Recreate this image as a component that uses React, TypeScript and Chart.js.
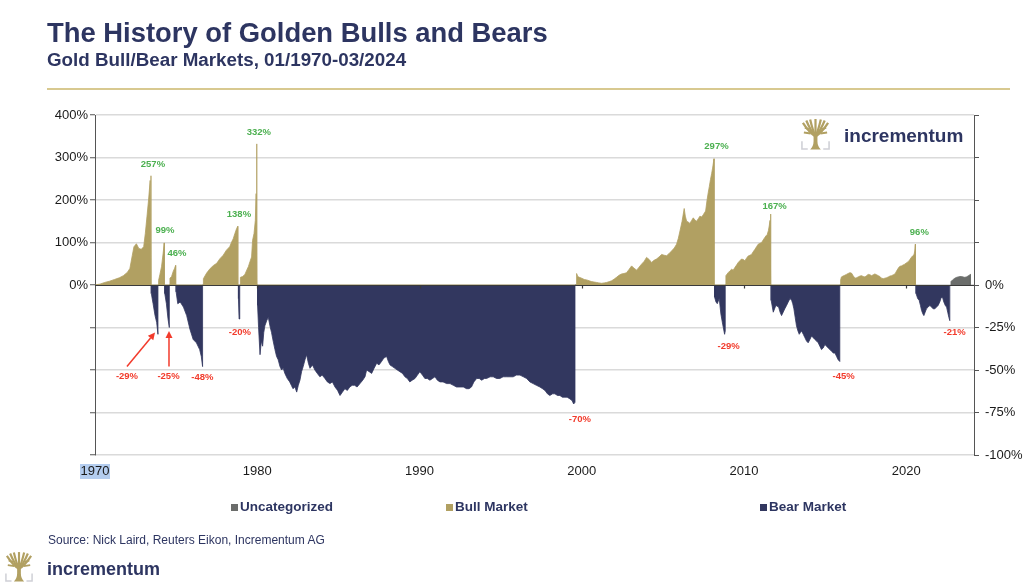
import React, { useEffect, useRef } from "react";
import { Chart, registerables } from "chart.js";

Chart.register(...registerables);

type Pt = [number, number];

// ---------- axis ticks ----------
const xTickYears = [1970, 1980, 1990, 2000, 2010, 2020];
const leftTickLabels = [0, 100, 200, 300, 400];
const rightTickLabels = [0, -25, -50, -75, -100];
const legendLabels = ["Uncategorized", "Bull Market", "Bear Market"];

// ---------- series: [year, % change] ----------
const bull1: Pt[] = [[1970.05, 0.5], [1970.3, 2], [1970.6, 6], [1970.9, 9], [1971.2, 13], [1971.5, 17], [1971.75, 22], [1972.0, 30], [1972.15, 39], [1972.3, 70], [1972.4, 90], [1972.55, 97], [1972.7, 86], [1972.85, 84], [1973.0, 90], [1973.1, 121], [1973.2, 160], [1973.3, 200], [1973.4, 246], [1973.45, 257]];
const bear1: Pt[] = [[1973.47, -5], [1973.58, -11], [1973.7, -18], [1973.8, -22], [1973.88, -29]];
const bull2: Pt[] = [[1973.92, 11], [1974.0, 25], [1974.1, 43], [1974.2, 75], [1974.27, 99]];
const bear2: Pt[] = [[1974.3, -5], [1974.4, -11], [1974.5, -20], [1974.58, -25]];
const bull3: Pt[] = [[1974.62, 16], [1974.72, 20], [1974.82, 32], [1974.9, 39], [1974.97, 46]];
const bear3: Pt[] = [[1975.0, -4], [1975.1, -11], [1975.25, -10], [1975.45, -13], [1975.65, -18], [1975.85, -26], [1976.05, -32], [1976.25, -34], [1976.45, -38], [1976.55, -42], [1976.63, -48]];
const bull4: Pt[] = [[1976.68, 15], [1976.88, 28], [1977.1, 39], [1977.3, 46], [1977.5, 51], [1977.7, 62], [1977.9, 70], [1978.1, 82], [1978.3, 90], [1978.42, 101], [1978.52, 109], [1978.62, 121], [1978.73, 133], [1978.8, 138]];
const bear4: Pt[] = [[1978.84, -8], [1978.88, -20], [1978.92, -12]];
const bull5: Pt[] = [[1978.96, 18], [1979.1, 20], [1979.24, 25], [1979.35, 35], [1979.45, 43], [1979.55, 55], [1979.65, 66], [1979.71, 105], [1979.8, 121], [1979.88, 152], [1979.93, 215], [1979.97, 332]];
const bear5: Pt[] = [[1980.02, -12], [1980.08, -25], [1980.17, -41], [1980.25, -33], [1980.33, -36], [1980.4, -28], [1980.47, -24], [1980.58, -21], [1980.68, -19], [1980.78, -24], [1980.88, -28], [1980.98, -33], [1981.09, -38], [1981.19, -42], [1981.29, -44], [1981.4, -48], [1981.5, -50], [1981.6, -49], [1981.7, -52], [1981.85, -55], [1982.0, -57], [1982.1, -59], [1982.2, -61], [1982.32, -60], [1982.43, -63], [1982.53, -59], [1982.63, -56], [1982.73, -51], [1982.83, -48], [1982.94, -44], [1983.04, -41], [1983.15, -46], [1983.25, -49], [1983.4, -47], [1983.55, -50], [1983.7, -52], [1983.86, -54], [1984.0, -53], [1984.17, -55], [1984.32, -57], [1984.48, -58], [1984.63, -57], [1984.79, -60], [1984.95, -62], [1985.1, -65], [1985.25, -63], [1985.4, -61], [1985.55, -62], [1985.7, -60], [1985.85, -59], [1986.0, -59], [1986.15, -60], [1986.33, -58], [1986.5, -56], [1986.64, -54], [1986.74, -50], [1986.9, -51], [1987.05, -52], [1987.2, -49], [1987.36, -46], [1987.5, -47], [1987.66, -45], [1987.8, -43], [1987.97, -42], [1988.08, -45], [1988.18, -47], [1988.33, -48], [1988.48, -49], [1988.63, -50], [1988.79, -51], [1988.95, -52], [1989.1, -54], [1989.25, -55], [1989.4, -57], [1989.55, -56], [1989.72, -55], [1989.87, -53], [1990.02, -51], [1990.18, -53], [1990.33, -55], [1990.48, -55], [1990.64, -56], [1990.8, -55], [1990.95, -54], [1991.1, -56], [1991.26, -57], [1991.45, -57], [1991.67, -58], [1991.88, -58], [1992.08, -59], [1992.28, -60], [1992.49, -60], [1992.7, -60], [1992.9, -61], [1993.05, -61], [1993.2, -60], [1993.35, -57], [1993.52, -55], [1993.68, -55], [1993.83, -56], [1994.0, -55], [1994.13, -55], [1994.35, -54], [1994.54, -54], [1994.75, -55], [1994.95, -55], [1995.15, -54], [1995.37, -54], [1995.57, -54], [1995.77, -54], [1995.97, -53], [1996.19, -53], [1996.4, -54], [1996.6, -55], [1996.8, -57], [1997.0, -58], [1997.2, -59], [1997.42, -60], [1997.58, -61], [1997.73, -62], [1997.88, -64], [1998.03, -65], [1998.2, -64], [1998.34, -64], [1998.5, -65], [1998.65, -65], [1998.8, -66], [1998.96, -66], [1999.1, -66], [1999.27, -67], [1999.4, -68], [1999.5, -70], [1999.58, -69]];
const bull6: Pt[] = [[1999.68, 27], [1999.75, 20], [1999.85, 18], [1999.99, 16], [2000.15, 13], [2000.3, 12], [2000.45, 10], [2000.6, 8], [2000.75, 7], [2000.91, 6], [2001.05, 5], [2001.22, 4], [2001.38, 5], [2001.53, 6], [2001.7, 8], [2001.84, 10], [2002.0, 14], [2002.14, 18], [2002.3, 23], [2002.45, 26], [2002.6, 27], [2002.76, 29], [2002.9, 36], [2003.07, 45], [2003.2, 40], [2003.38, 35], [2003.53, 42], [2003.68, 49], [2003.85, 56], [2003.99, 65], [2004.15, 60], [2004.3, 53], [2004.45, 58], [2004.6, 61], [2004.76, 66], [2004.92, 72], [2005.08, 70], [2005.23, 69], [2005.38, 74], [2005.53, 80], [2005.7, 87], [2005.84, 96], [2005.95, 110], [2006.05, 127], [2006.18, 150], [2006.31, 180], [2006.38, 162], [2006.46, 150], [2006.56, 148], [2006.66, 145], [2006.77, 152], [2006.87, 158], [2006.97, 153], [2007.07, 150], [2007.18, 156], [2007.28, 162], [2007.38, 160], [2007.48, 165], [2007.56, 170], [2007.63, 174], [2007.72, 200], [2007.79, 217], [2007.86, 232], [2007.93, 248], [2008.0, 262], [2008.06, 275], [2008.12, 290], [2008.15, 297]];
const bear6: Pt[] = [[2008.18, -7], [2008.27, -10], [2008.35, -11], [2008.47, -8], [2008.57, -17], [2008.68, -23], [2008.8, -29], [2008.84, -27]];
const bull7: Pt[] = [[2008.88, 22], [2009.02, 29], [2009.12, 33], [2009.23, 37], [2009.33, 35], [2009.43, 41], [2009.54, 47], [2009.64, 53], [2009.74, 57], [2009.84, 61], [2009.95, 60], [2010.05, 57], [2010.15, 63], [2010.25, 68], [2010.36, 70], [2010.46, 72], [2010.56, 78], [2010.67, 84], [2010.77, 90], [2010.87, 96], [2010.98, 98], [2011.08, 100], [2011.18, 106], [2011.28, 112], [2011.36, 116], [2011.43, 119], [2011.5, 128], [2011.55, 139], [2011.6, 152], [2011.64, 167]];
const bear7: Pt[] = [[2011.67, -9], [2011.8, -16], [2011.96, -12], [2012.13, -13], [2012.22, -16], [2012.31, -18], [2012.41, -16], [2012.51, -14], [2012.62, -12], [2012.72, -10], [2012.83, -8], [2012.93, -9], [2013.0, -11], [2013.07, -14], [2013.15, -19], [2013.23, -24], [2013.32, -27], [2013.4, -29], [2013.47, -28], [2013.54, -27], [2013.65, -29], [2013.75, -31], [2013.85, -33], [2013.95, -34], [2014.06, -32], [2014.16, -30], [2014.26, -31], [2014.36, -32], [2014.47, -33], [2014.57, -34], [2014.67, -36], [2014.77, -38], [2014.88, -37], [2014.98, -35], [2015.08, -36], [2015.18, -37], [2015.29, -38], [2015.39, -39], [2015.5, -40], [2015.6, -40], [2015.7, -42], [2015.8, -44], [2015.9, -45]];
const bull8: Pt[] = [[2015.95, 12], [2016.0, 19], [2016.1, 21], [2016.21, 23], [2016.31, 25], [2016.41, 27], [2016.52, 29], [2016.62, 28], [2016.72, 22], [2016.83, 16], [2016.93, 17], [2017.03, 19], [2017.14, 21], [2017.24, 22], [2017.34, 20], [2017.45, 19], [2017.55, 22], [2017.65, 25], [2017.76, 24], [2017.86, 22], [2017.96, 24], [2018.06, 26], [2018.17, 24], [2018.27, 22], [2018.37, 20], [2018.47, 16], [2018.58, 15], [2018.68, 16], [2018.78, 17], [2018.89, 19], [2018.99, 21], [2019.09, 22], [2019.2, 24], [2019.3, 26], [2019.4, 33], [2019.51, 40], [2019.6, 44], [2019.7, 45], [2019.8, 47], [2019.9, 49], [2020.0, 52], [2020.12, 55], [2020.22, 60], [2020.33, 66], [2020.4, 69], [2020.47, 71], [2020.52, 80], [2020.56, 96]];
const bear8: Pt[] = [[2020.6, -5], [2020.7, -8], [2020.79, -9], [2020.87, -12], [2020.94, -15], [2021.02, -17], [2021.08, -18], [2021.16, -16], [2021.24, -14], [2021.35, -13], [2021.45, -12], [2021.55, -13], [2021.65, -14], [2021.76, -14], [2021.86, -13], [2021.96, -12], [2022.06, -10], [2022.13, -8], [2022.19, -7], [2022.25, -8], [2022.31, -10], [2022.4, -12], [2022.48, -13], [2022.55, -16], [2022.62, -19], [2022.68, -21]];
const uncategorized: Pt[] = [[2022.75, 8], [2022.85, 12], [2022.99, 16], [2023.1, 18], [2023.19, 19], [2023.3, 20], [2023.4, 20], [2023.5, 19], [2023.6, 18], [2023.7, 19], [2023.8, 21], [2023.88, 23], [2023.95, 25]];

const bullSegments = [bull1, bull2, bull3, bull4, bull5, bull6, bull7, bull8];
const bearSegments = [bear1, bear2, bear3, bear4, bear5, bear6, bear7, bear8];

// ---------- annotations (text anchor in data units) ----------
const bullLabels = [
  { year: 1973.57, value: 283, text: "257%" },
  { year: 1974.31, value: 129, text: "99%" },
  { year: 1975.05, value: 75, text: "46%" },
  { year: 1978.87, value: 166, text: "138%" },
  { year: 1980.1, value: 358, text: "332%" },
  { year: 2008.3, value: 326, text: "297%" },
  { year: 2011.88, value: 185, text: "167%" },
  { year: 2020.8, value: 125, text: "96%" },
];
const bearLabels = [
  { year: 1971.97, value: -53.6, text: "-29%" },
  { year: 1974.53, value: -53.6, text: "-25%" },
  { year: 1976.62, value: -54.6, text: "-48%" },
  { year: 1978.93, value: -27.9, text: "-20%" },
  { year: 1999.88, value: -79, text: "-70%" },
  { year: 2009.05, value: -36, text: "-29%" },
  { year: 2016.14, value: -53.6, text: "-45%" },
  { year: 2022.98, value: -27.9, text: "-21%" },
];
const arrows = [
  { from: [1971.97, -48], to: [1973.7, -28] },
  { from: [1974.56, -48], to: [1974.56, -27] },
];

const FONT = '"Liberation Sans", Arial, Helvetica, sans-serif';
const NAVY = "#2d3561";
const GOLD = "#b1a062";
const BEAR = "#32375f";
const GRAY = "#6b6d6b";
const GREEN = "#4cb050";
const RED = "#f23b2c";

function seg(arr: Pt[]) {
  return [
    { x: arr[0][0], y: 0 },
    ...arr.map(([x, y]) => ({ x, y })),
    { x: arr[arr.length - 1][0], y: 0 },
  ];
}

const overlayPlugin = {
  id: "overlay",
  beforeDraw(chart: any) {
    const { ctx, scales } = chart;
    const px = scales.x.getPixelForValue(1970);
    ctx.save();
    ctx.fillStyle = "#b4cdef";
    ctx.fillRect(px - 15, 464, 30, 15);
    ctx.restore();
  },
  afterDatasetsDraw(chart: any) {
    const { ctx, chartArea, scales } = chart;
    const { x, y, y2 } = scales;
    const y0 = Math.round(y.getPixelForValue(0)) + 0.5;
    ctx.save();
    ctx.strokeStyle = "#3a3a3a";
    ctx.lineWidth = 1.2;
    ctx.beginPath();
    ctx.moveTo(chartArea.left, y0);
    ctx.lineTo(chartArea.right, y0);
    xTickYears.slice(1).forEach((yr) => {
      const px = Math.round(x.getPixelForValue(yr)) + 0.5;
      ctx.moveTo(px, y0);
      ctx.lineTo(px, y0 + 3);
    });
    ctx.stroke();

    ctx.font = `bold 9.5px ${FONT}`;
    ctx.textAlign = "center";
    ctx.textBaseline = "middle";
    ctx.fillStyle = GREEN;
    bullLabels.forEach((l) => ctx.fillText(l.text, x.getPixelForValue(l.year), y.getPixelForValue(l.value)));
    ctx.fillStyle = RED;
    bearLabels.forEach((l) => ctx.fillText(l.text, x.getPixelForValue(l.year), y2.getPixelForValue(l.value)));

    ctx.strokeStyle = RED;
    ctx.lineWidth = 1.5;
    arrows.forEach((a) => {
      const x1 = x.getPixelForValue(a.from[0]);
      const y1 = y2.getPixelForValue(a.from[1]);
      const x2 = x.getPixelForValue(a.to[0]);
      const y2p = y2.getPixelForValue(a.to[1]);
      const ang = Math.atan2(y2p - y1, x2 - x1);
      const hl = 7;
      const hw = 3.5;
      const bx = x2 - hl * Math.cos(ang);
      const by = y2p - hl * Math.sin(ang);
      ctx.beginPath();
      ctx.moveTo(x1, y1);
      ctx.lineTo(bx, by);
      ctx.stroke();
      ctx.beginPath();
      ctx.moveTo(x2, y2p);
      ctx.lineTo(bx + hw * Math.sin(ang), by - hw * Math.cos(ang));
      ctx.lineTo(bx - hw * Math.sin(ang), by + hw * Math.cos(ang));
      ctx.closePath();
      ctx.fill();
    });
    ctx.restore();
  },
};

function TreeIcon({ left, top, w, h }: { left: number; top: number; w: number; h: number }) {
  const branchTops = [
    [2, 4], [5.5, 1.5], [9.5, 0.5], [15, 0], [20.5, 0.5], [24.5, 1.5], [28, 4],
  ];
  return (
    <svg
      width={w}
      height={h}
      viewBox="0 0 30 32"
      style={{ position: "absolute", left, top }}
    >
      <path d="M1 23 V31 H7" fill="none" stroke="#cfd0d6" strokeWidth={1.6} />
      <path d="M29 23 V31 H23" fill="none" stroke="#cfd0d6" strokeWidth={1.6} />
      {branchTops.map(([bx, by], i) => (
        <path key={i} d={`M15 18 Q${(15 + bx) / 2} ${(18 + by) / 2 + 3} ${bx} ${by}`} fill="none" stroke={GOLD} strokeWidth={2.3} />
      ))}
      <path d="M4 9 L9 11 M26 9 L21 11 M3 14 L10 15 M27 14 L20 15" stroke={GOLD} strokeWidth={2} />
      <path d="M9.5 31.5 Q13 28 13 23 L13 16 L17 16 L17 23 Q17 28 20.5 31.5 Z" fill={GOLD} />
    </svg>
  );
}

export default function App() {
  const ref = useRef<HTMLCanvasElement>(null);

  useEffect(() => {
    if (!ref.current) return;
    const chart = new Chart(ref.current, {
      type: "line",
      data: {
        datasets: [
          {
            label: legendLabels[0],
            data: seg(uncategorized),
            yAxisID: "y",
            backgroundColor: GRAY,
            borderColor: GRAY,
            fill: "origin",
          },
          {
            label: legendLabels[1],
            data: bullSegments.flatMap(seg),
            yAxisID: "y",
            backgroundColor: GOLD,
            borderColor: GOLD,
            fill: "origin",
          },
          {
            label: legendLabels[2],
            data: bearSegments.flatMap(seg),
            yAxisID: "y2",
            backgroundColor: BEAR,
            borderColor: BEAR,
            fill: "origin",
          },
        ],
      } as any,
      options: {
        animation: false,
        responsive: false,
        maintainAspectRatio: false,
        devicePixelRatio: 1,
        elements: {
          point: { radius: 0, hoverRadius: 0 },
          line: { borderWidth: 0.8, tension: 0 },
        },
        layout: { padding: { left: 45, right: 0, top: 115, bottom: 103 } },
        plugins: {
          legend: { display: false },
          tooltip: { enabled: false },
          title: { display: false },
        },
        scales: {
          x: {
            type: "linear",
            min: 1970,
            max: 2024.17,
            afterBuildTicks: (s: any) => {
              s.ticks = xTickYears.map((v) => ({ value: v }));
            },
            afterFit: (s: any) => {
              s.height = 30;
            },
            grid: { display: false, drawTicks: false },
            border: { display: false },
            ticks: {
              autoSkip: false,
              maxRotation: 0,
              padding: 9,
              color: "#1a1a1a",
              font: { family: FONT, size: 13 },
              callback: (v: any) => String(v),
            },
          },
          y: {
            position: "left",
            min: -400,
            max: 400,
            ticks: {
              stepSize: 100,
              padding: 2,
              color: "#1a1a1a",
              font: { family: FONT, size: 13 },
              callback: (v: any) => (leftTickLabels.includes(Number(v)) ? `${v}%` : ""),
            },
            grid: {
              color: "#dadada",
              lineWidth: 1.5,
              tickLength: 5,
              tickColor: "#555",
              tickWidth: 1,
            },
            border: { display: true, color: "#555", width: 1 },
            afterFit: (s: any) => {
              s.width = 50;
            },
          },
          y2: {
            position: "right",
            min: -100,
            max: 100,
            ticks: {
              stepSize: 25,
              padding: 6,
              color: "#1a1a1a",
              font: { family: FONT, size: 13 },
              callback: (v: any) => (rightTickLabels.includes(Number(v)) ? `${v}%` : ""),
            },
            grid: {
              drawOnChartArea: false,
              tickLength: 5,
              tickColor: "#555",
              tickWidth: 1,
            },
            border: { display: true, color: "#555", width: 1 },
            afterFit: (s: any) => {
              s.width = 50;
            },
          },
        },
      } as any,
      plugins: [overlayPlugin],
    });
    return () => chart.destroy();
  }, []);

  const legendColors = [GRAY, GOLD, BEAR];
  const legendX = [231, 446, 760];

  return (
    <div
      style={{
        position: "fixed",
        left: 0,
        top: 0,
        width: 1024,
        height: 588,
        background: "#fff",
        overflow: "hidden",
        fontFamily: FONT,
      }}
    >
      <canvas
        ref={ref}
        width={1024}
        height={588}
        style={{ position: "absolute", left: 0, top: 0, width: 1024, height: 588 }}
      />
      <div style={{ position: "absolute", left: 47, top: 19, fontSize: 27.4, lineHeight: "27px", fontWeight: 700, color: NAVY, whiteSpace: "nowrap" }}>
        The History of Golden Bulls and Bears
      </div>
      <div style={{ position: "absolute", left: 47, top: 51, fontSize: 18.8, lineHeight: "18px", fontWeight: 700, color: NAVY, whiteSpace: "nowrap" }}>
        Gold Bull/Bear Markets, 01/1970-03/2024
      </div>
      <div style={{ position: "absolute", left: 47, top: 88, width: 963, height: 1.5, background: "#d8c990" }} />

      <TreeIcon left={800} top={119} w={31} h={31} />
      <div style={{ position: "absolute", left: 844, top: 126, fontSize: 19, lineHeight: "19px", fontWeight: 700, color: NAVY, whiteSpace: "nowrap" }}>
        incrementum
      </div>

      {legendLabels.map((t, i) => (
        <div key={t} style={{ position: "absolute", left: legendX[i], top: 500, display: "flex", alignItems: "center", whiteSpace: "nowrap" }}>
          <span style={{ display: "inline-block", width: 7, height: 7, background: legendColors[i], marginRight: 2 }} />
          <span style={{ fontSize: 13.5, lineHeight: "14px", fontWeight: 700, color: NAVY }}>{t}</span>
        </div>
      ))}

      <div style={{ position: "absolute", left: 48, top: 534, fontSize: 12, lineHeight: "12px", color: NAVY, whiteSpace: "nowrap" }}>
        Source: Nick Laird, Reuters Eikon, Incrementum AG
      </div>
      <TreeIcon left={5} top={552} w={28} h={30} />
      <div style={{ position: "absolute", left: 47, top: 560, fontSize: 18, lineHeight: "18px", fontWeight: 700, color: NAVY, whiteSpace: "nowrap" }}>
        incrementum
      </div>
    </div>
  );
}
